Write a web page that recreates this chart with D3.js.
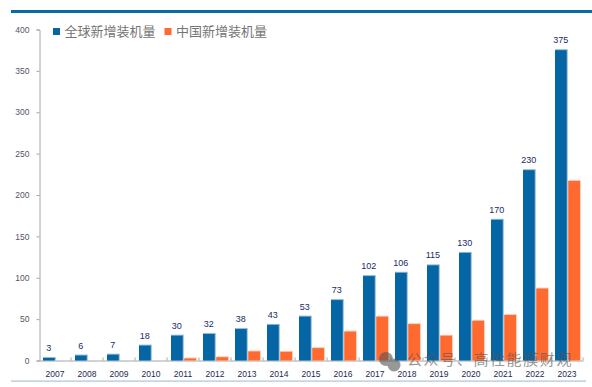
<!DOCTYPE html>
<html>
<head>
<meta charset="utf-8">
<script src="https://cdn.jsdelivr.net/npm/d3@7"></script>
<style>
html, body { margin: 0; padding: 0; background: #fff; }
</style>
</head>
<body>
<div id="chart"></div>
<script>
const years = ["2007","2008","2009","2010","2011","2012","2013","2014","2015","2016","2017","2018","2019","2020","2021","2022","2023"];
const globalValues = [3,6,7,18,30,32,38,43,53,73,102,106,115,130,170,230,375];
const chinaValues = [0,0,0,0,2.5,4,11,10.5,15,35,53,44,30,48,55,87,217];
const yTicks = [0,50,100,150,200,250,300,350,400];
const seriesNames = ["全球新增装机量","中国新增装机量"];

const blue = "#0565a5", orange = "#ff6a30";
const cjk = "'Noto Sans CJK SC', sans-serif";
const latin = "'Liberation Sans', Arial, sans-serif";

const svg = d3.select("#chart").append("svg")
    .attr("width", 592)
    .attr("height", 387)
    .style("display", "block");

// top and bottom rules of the slide
svg.append("rect").attr("x", 11).attr("y", 10).attr("width", 581).attr("height", 3).attr("fill", "#0a69a9");
svg.append("rect").attr("x", 11).attr("y", 380.5).attr("width", 575).attr("height", 1.2).attr("fill", "#a9c6d8");

const x = d3.scaleBand().domain(years).range([39, 583]);
const inner = d3.scaleBand().domain([0, 1]).range([4, 29]).paddingInner(0.115);
const y = d3.scaleLinear().domain([0, 400]).range([360.5, 29.5]);

// axes
const yAxis = d3.axisLeft(y).tickValues(yTicks).tickSize(3).tickPadding(7);
const gy = svg.append("g").attr("transform", "translate(39.5,0)").call(yAxis);
gy.selectAll("path, line").attr("stroke", "#a6a6a6");
gy.selectAll("text").attr("fill", "#555566").style("font-family", latin).style("font-size", "8.5px");

const xAxis = d3.axisBottom(x).tickValues(years).tickSize(0).tickPadding(10);
const gx = svg.append("g").attr("transform", "translate(0,360.5)").call(xAxis);
gx.select("path").attr("stroke", "#a6a6a6");
gx.selectAll("text").attr("fill", "#1a2a55").style("font-family", latin).style("font-size", "8.5px");

svg.append("g").selectAll("line")
    .data(years)
    .join("line")
    .attr("x1", d => x(d) + x.bandwidth())
    .attr("x2", d => x(d) + x.bandwidth())
    .attr("y1", 357.5)
    .attr("y2", 360.5)
    .attr("stroke", "#a6a6a6");

// bars, each with the pale edge the picture shows on its top and right
const drawBars = (values, idx, fill, edge) => {
    const g = svg.append("g");
    g.selectAll("rect.edge")
        .data(years)
        .join("rect")
        .attr("class", "edge")
        .attr("x", d => x(d) + inner(idx))
        .attr("y", (d, i) => y(values[i]) - 1)
        .attr("width", inner.bandwidth() + 1)
        .attr("height", (d, i) => values[i] > 0 ? y(0) - y(values[i]) + 1 : 0)
        .attr("fill", edge);
    g.selectAll("rect.bar")
        .data(years)
        .join("rect")
        .attr("class", "bar")
        .attr("x", d => x(d) + inner(idx))
        .attr("y", (d, i) => y(values[i]))
        .attr("width", inner.bandwidth())
        .attr("height", (d, i) => y(0) - y(values[i]))
        .attr("fill", fill);
};
drawBars(globalValues, 0, blue, "#8fbad8");
drawBars(chinaValues, 1, orange, "#ffd0bb");

// value labels
svg.append("g").selectAll("text")
    .data(years)
    .join("text")
    .attr("x", d => x(d) + inner(0) + inner.bandwidth() / 2)
    .attr("y", (d, i) => y(globalValues[i]) - 7)
    .attr("text-anchor", "middle")
    .attr("fill", "#1a2a66")
    .style("font-family", latin)
    .style("font-size", "9px")
    .text((d, i) => globalValues[i]);

// legend
const legend = svg.append("g").selectAll("g")
    .data(seriesNames)
    .join("g")
    .attr("transform", (d, i) => `translate(${53 + i * 111.5},0)`);
legend.append("rect").attr("y", 28).attr("width", 7).attr("height", 7)
    .attr("fill", (d, i) => i == 0 ? blue : orange);
legend.append("text")
    .attr("x", 11.5).attr("y", 36)
    .attr("fill", "#757575")
    .style("font-family", cjk)
    .style("font-size", "13px")
    .text(d => d);

// watermark
const wm = svg.append("g").attr("opacity", 0.6);
wm.append("circle").attr("cx", 386).attr("cy", 359).attr("r", 7).attr("fill", "#555");
wm.append("circle").attr("cx", 394).attr("cy", 365).attr("r", 6.5).attr("fill", "#555");
wm.append("text")
    .attr("x", 407).attr("y", 364.5)
    .attr("fill", "#555")
    .style("font-family", cjk)
    .style("font-size", "15px")
    .style("letter-spacing", "1.6px")
    .text("公众号、高性能膜财观");
</script>
</body>
</html>
